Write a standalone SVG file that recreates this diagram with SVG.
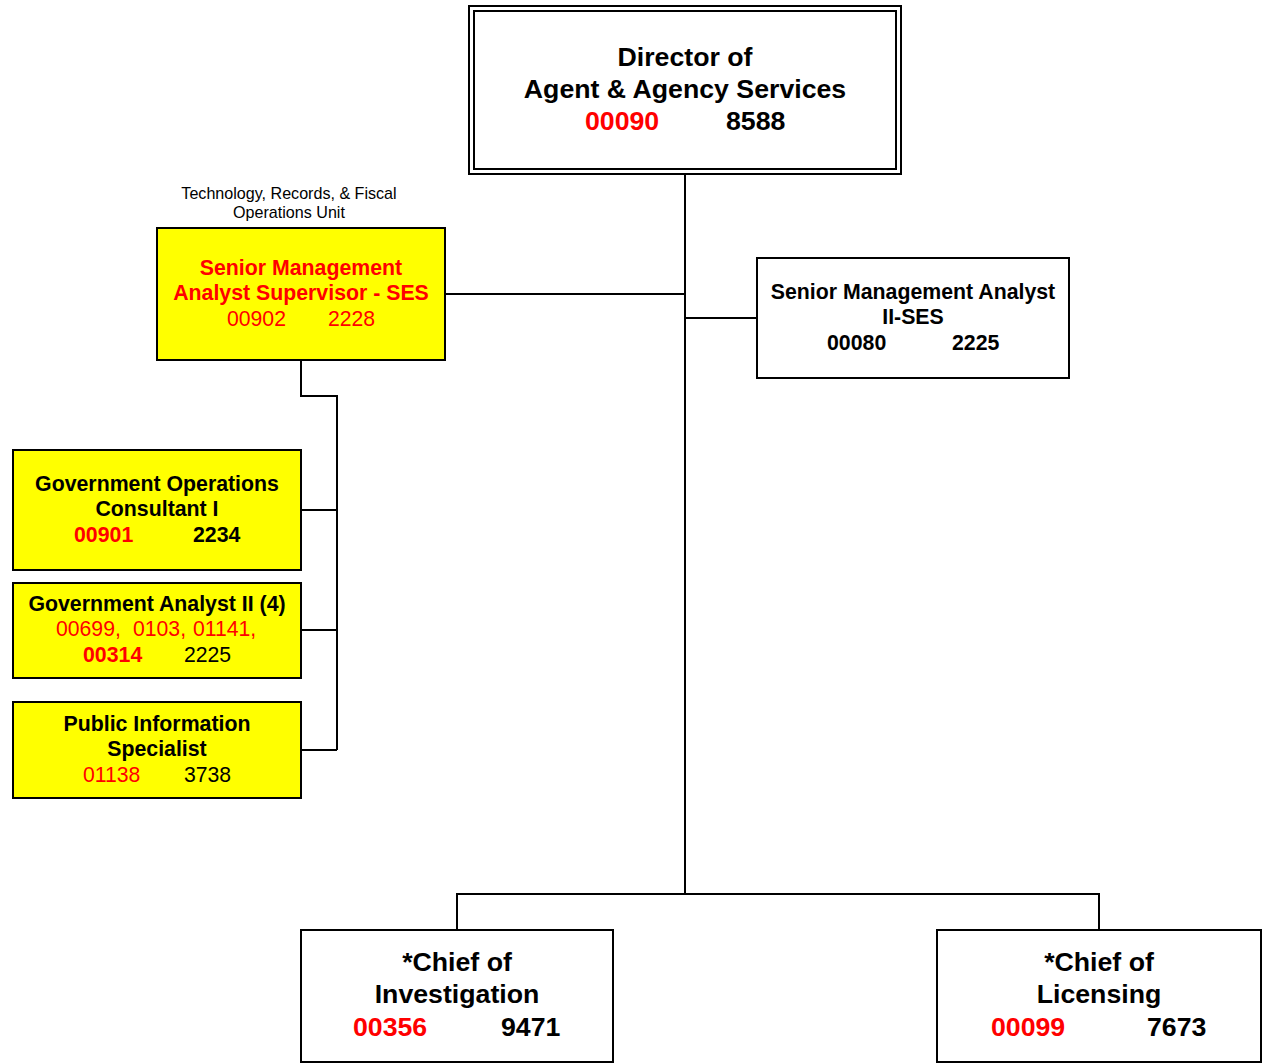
<svg xmlns="http://www.w3.org/2000/svg" width="1268" height="1063" viewBox="0 0 1268 1063">
  <style>
    .box { fill: #ffffff; stroke: #000000; stroke-width: 2; }
    .ybox { fill: #ffff00; stroke: #000000; stroke-width: 2; }
    .wire { fill: none; stroke: #000000; stroke-width: 2; }
    text { font-family: "Liberation Sans", Arial, sans-serif; fill: #000000; }
    .t26 { font-size: 26.7px; font-weight: bold; }
    .t21 { font-size: 21.3px; font-weight: bold; }
    .r21 { font-size: 21.2px; font-weight: normal; }
    .small { font-size: 16.1px; }
    .red { fill: #ff0000; }
    .mid { text-anchor: middle; }
  </style>

  <!-- connectors -->
  <g id="connectors">
    <path class="wire" d="M685,174 V894"/>
    <path class="wire" d="M445,294 H685"/>
    <path class="wire" d="M685,318 H757"/>
    <path class="wire" d="M301,360 V396 H337 V750"/>
    <path class="wire" d="M301,510 H337"/>
    <path class="wire" d="M301,630 H337"/>
    <path class="wire" d="M301,750 H337"/>
    <path class="wire" d="M457,930 V894 H1099 V930"/>
  </g>

  <!-- top: director -->
  <g id="director">
    <rect class="box" x="469" y="6" width="432" height="168"/>
    <rect class="box" x="474" y="11" width="422" height="158"/>
    <text class="t26 mid" x="685" y="66">Director of</text>
    <text class="t26 mid" x="685" y="98">Agent &amp; Agency Services</text>
    <text class="t26 red" x="585" y="130">00090</text>
    <text class="t26" x="726" y="130">8588</text>
  </g>

  <!-- unit caption -->
  <g id="unit-label">
    <text class="small mid" x="289" y="199">Technology, Records, &amp; Fiscal</text>
    <text class="small mid" x="289" y="218">Operations Unit</text>
  </g>

  <g id="sma-supervisor">
    <rect class="ybox" x="157" y="228" width="288" height="132"/>
    <text class="t21 mid red" x="301" y="275">Senior Management</text>
    <text class="t21 mid red" x="301" y="300">Analyst Supervisor - SES</text>
    <text class="r21 red" x="227" y="326">00902</text>
    <text class="r21 red" x="328" y="326">2228</text>
  </g>

  <g id="sma-ii">
    <rect class="box" x="757" y="258" width="312" height="120"/>
    <text class="t21 mid" x="913" y="299">Senior Management Analyst</text>
    <text class="t21 mid" x="913" y="324">II-SES</text>
    <text class="t21" x="827" y="350">00080</text>
    <text class="t21" x="952" y="350">2225</text>
  </g>

  <g id="goc-i">
    <rect class="ybox" x="13" y="450" width="288" height="120"/>
    <text class="t21 mid" x="157" y="491">Government Operations</text>
    <text class="t21 mid" x="157" y="516">Consultant I</text>
    <text class="t21 red" x="74" y="542">00901</text>
    <text class="t21" x="193" y="542">2234</text>
  </g>

  <g id="ga-ii">
    <rect class="ybox" x="13" y="583" width="288" height="95"/>
    <text class="t21 mid" x="157" y="611">Government Analyst II (4)</text>
    <text class="r21 red" y="636"><tspan x="56">00699,</tspan><tspan x="133">0103,</tspan><tspan x="193">01141,</tspan></text>
    <text class="t21 red" x="83" y="662">00314</text>
    <text class="r21" x="184" y="662">2225</text>
  </g>

  <g id="pis">
    <rect class="ybox" x="13" y="702" width="288" height="96"/>
    <text class="t21 mid" x="157" y="731">Public Information</text>
    <text class="t21 mid" x="157" y="756">Specialist</text>
    <text class="r21 red" x="83" y="782">01138</text>
    <text class="r21" x="184" y="782">3738</text>
  </g>

  <g id="chief-investigation">
    <rect class="box" x="301" y="930" width="312" height="132"/>
    <text class="t26 mid" x="457" y="971">*Chief of</text>
    <text class="t26 mid" x="457" y="1003">Investigation</text>
    <text class="t26 red" x="353" y="1036">00356</text>
    <text class="t26" x="501" y="1036">9471</text>
  </g>

  <g id="chief-licensing">
    <rect class="box" x="937" y="930" width="324" height="132"/>
    <text class="t26 mid" x="1099" y="971">*Chief of</text>
    <text class="t26 mid" x="1099" y="1003">Licensing</text>
    <text class="t26 red" x="991" y="1036">00099</text>
    <text class="t26" x="1147" y="1036">7673</text>
  </g>
</svg>
